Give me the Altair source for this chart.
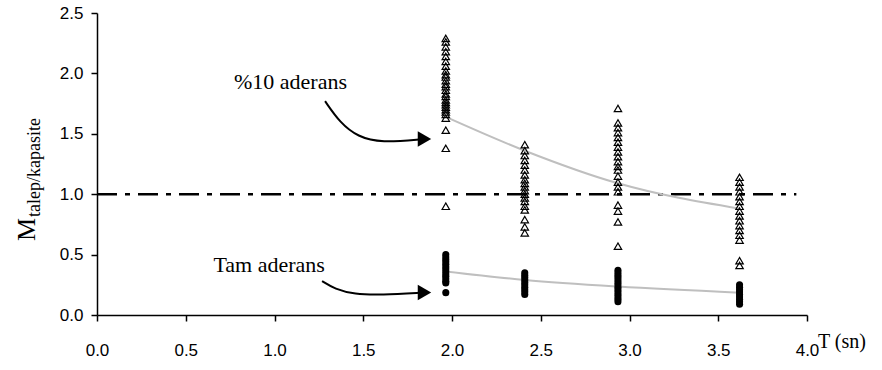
import altair as alt
import pandas as pd

# ---- data ----
t_cols = [1.965, 2.41, 2.935, 3.62]

tri_c1 = [2.29, 2.26, 2.22, 2.18, 2.14, 2.10, 2.06, 2.02, 1.99, 1.97, 1.94, 1.91, 1.89,
          1.86, 1.83, 1.81, 1.78, 1.76, 1.74, 1.72, 1.70, 1.68, 1.66, 1.63, 1.53, 1.38, 0.90]
tri_c2 = [1.41, 1.36, 1.32, 1.28, 1.24, 1.20, 1.16, 1.12, 1.09, 1.06, 1.03, 1.00, 0.97,
          0.94, 0.90, 0.87, 0.79, 0.73, 0.68]
tri_c3 = [1.71, 1.59, 1.55, 1.51, 1.47, 1.43, 1.39, 1.35, 1.31, 1.27, 1.23, 1.20, 1.15,
          1.10, 1.06, 1.02, 0.91, 0.86, 0.77, 0.57]
tri_c4 = [1.14, 1.10, 1.06, 1.02, 0.98, 0.94, 0.90, 0.86, 0.82, 0.78, 0.74, 0.70, 0.66,
          0.62, 0.45, 0.41]

dot_c1 = [0.50, 0.48, 0.46, 0.44, 0.42, 0.40, 0.38, 0.36, 0.34, 0.32, 0.30, 0.28, 0.265, 0.185]
dot_c2 = [0.35, 0.33, 0.31, 0.29, 0.27, 0.25, 0.23, 0.21, 0.19, 0.17]
dot_c3 = [0.37, 0.35, 0.33, 0.31, 0.29, 0.27, 0.25, 0.23, 0.21, 0.19, 0.17, 0.15, 0.13, 0.11]
dot_c4 = [0.25, 0.23, 0.21, 0.19, 0.17, 0.15, 0.13, 0.11, 0.09]

fit_upper = [1.64, 1.36, 1.09, 0.88]
fit_lower = [0.36, 0.29, 0.235, 0.185]

ref_x = [0.0, 3.94]
ref_y = [1.0, 1.0]

# annotation arrows (data coordinates)
arrow1_x = [1.285, 1.37, 1.47, 1.60, 1.84]
arrow1_y = [1.77, 1.59, 1.475, 1.425, 1.457]
arrow2_x = [1.268, 1.34, 1.45, 1.60, 1.84]
arrow2_y = [0.281, 0.215, 0.172, 0.166, 0.186]
head_x = [1.845, 1.845]
head_y = [1.457, 0.186]

label_text = ["%10 aderans", "Tam aderans"]
label_x = [1.09, 0.97]
label_y = [1.93, 0.41]

x_ticks = [0.0, 0.5, 1.0, 1.5, 2.0, 2.5, 3.0, 3.5, 4.0]
y_ticks = [0.0, 0.5, 1.0, 1.5, 2.0, 2.5]

# ---- tables ----
tri_df = pd.DataFrame(
    [{"T": t, "M": v} for t, col in zip(t_cols, [tri_c1, tri_c2, tri_c3, tri_c4]) for v in col])
dot_df = pd.DataFrame(
    [{"T": t, "M": v} for t, col in zip(t_cols, [dot_c1, dot_c2, dot_c3, dot_c4]) for v in col])
fit_df = pd.DataFrame(
    [{"T": t, "M": v, "s": "u"} for t, v in zip(t_cols, fit_upper)] +
    [{"T": t, "M": v, "s": "l"} for t, v in zip(t_cols, fit_lower)])
ref_df = pd.DataFrame({"T": ref_x, "M": ref_y})
arr_df = pd.DataFrame(
    [{"T": x, "M": y, "g": "a", "o": i} for i, (x, y) in enumerate(zip(arrow1_x, arrow1_y))] +
    [{"T": x, "M": y, "g": "b", "o": i} for i, (x, y) in enumerate(zip(arrow2_x, arrow2_y))])
head_df = pd.DataFrame({"T": head_x, "M": head_y})
lab_df = pd.DataFrame({"T": label_x, "M": label_y, "txt": label_text})

xs = alt.Scale(domain=[0, 4], nice=False)
ys = alt.Scale(domain=[0, 2.5], nice=False)

X = alt.X("T:Q", scale=xs, axis=alt.Axis(values=x_ticks, format=".1f", title=None,
                                        grid=False, labelPadding=21, labelFlush=False,
                                        labelOverlap=False))
Y = alt.Y("M:Q", scale=ys, axis=alt.Axis(values=y_ticks, format=".1f", title=None,
                                        grid=False, labelPadding=8))

ref = alt.Chart(ref_df).mark_line(color="black", strokeWidth=2.5,
                                  strokeDash=[20, 8, 5, 8]).encode(x=X, y=Y)
fit = alt.Chart(fit_df).mark_line(color="#bfbfbf", strokeWidth=2,
                                  interpolate="monotone").encode(x=X, y=Y, detail="s:N")
tri = alt.Chart(tri_df).mark_point(shape="triangle-up", filled=False, color="black",
                                   strokeWidth=1.2, size=55, opacity=1).encode(x=X, y=Y)
dots = alt.Chart(dot_df).mark_circle(color="black", size=50, opacity=1).encode(x=X, y=Y)
arrows = alt.Chart(arr_df).mark_line(color="black", strokeWidth=2,
                                     interpolate="basis").encode(
    x=X, y=Y, detail="g:N", order="o:Q")
heads = alt.Chart(head_df).mark_point(shape="triangle-right", filled=True, color="black",
                                      size=240, opacity=1).encode(x=X, y=Y)
labels = alt.Chart(lab_df).mark_text(font="Liberation Serif", fontSize=22, color="black",
                                     baseline="middle", align="center").encode(
    x=X, y=Y, text="txt:N")

ytitle_m = alt.Chart(pd.DataFrame({"t": ["M"]})).mark_text(
    font="Liberation Serif", fontSize=26, angle=270, align="left", baseline="alphabetic",
    color="black").encode(x=alt.value(-62), y=alt.value(228), text="t:N")
ytitle_sub = alt.Chart(pd.DataFrame({"t": ["talep/kapasite"]})).mark_text(
    font="Liberation Serif", fontSize=18, angle=270, align="left", baseline="alphabetic",
    color="black").encode(x=alt.value(-57), y=alt.value(204), text="t:N")
xtitle = alt.Chart(pd.DataFrame({"t": ["T (sn)"]})).mark_text(
    font="Liberation Serif", fontSize=20, align="left", baseline="middle",
    color="black").encode(x=alt.value(721), y=alt.value(329), text="t:N")

chart = alt.layer(ref, fit, tri, dots, arrows, heads, labels, ytitle_m, ytitle_sub, xtitle).properties(
    width=710, height=302, autosize="none",
    padding={"left": 97, "top": 13, "right": 75, "bottom": 55},
).configure_view(stroke=None).configure_axis(
    domainColor="black", domainWidth=1.5, tickColor="black", tickWidth=1.5, tickSize=6,
    labelFont="Liberation Sans", labelFontSize=17, labelColor="black",
)

chart.save("out.html", embed_options={"renderer": "svg", "actions": False})
